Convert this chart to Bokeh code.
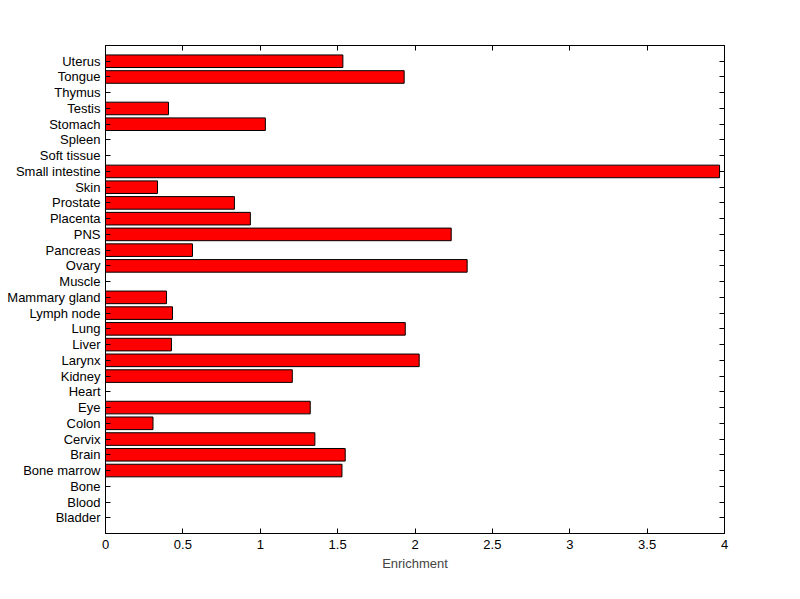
from bokeh.plotting import figure
from bokeh.models import Range1d, FixedTicker, LinearAxis, ColumnDataSource
from bokeh.embed import file_html
from bokeh.resources import INLINE

tissues = ["Bladder", "Blood", "Bone", "Bone marrow", "Brain", "Cervix", "Colon", "Eye",
           "Heart", "Kidney", "Larynx", "Liver", "Lung", "Lymph node", "Mammary gland",
           "Muscle", "Ovary", "Pancreas", "PNS", "Placenta", "Prostate", "Skin",
           "Small intestine", "Soft tissue", "Spleen", "Stomach", "Testis", "Thymus",
           "Tongue", "Uterus"]
enrichment = [0, 0, 0, 1.528, 1.549, 1.353, 0.307, 1.323,
              0, 1.207, 2.027, 0.426, 1.937, 0.433, 0.394,
              0, 2.337, 0.562, 2.234, 0.936, 0.833, 0.336,
              3.968, 0, 0, 1.033, 0.407, 0,
              1.930, 1.534]
x_ticks = [0, 0.5, 1, 1.5, 2, 2.5, 3, 3.5, 4]
x_tick_labels = ["0", "0.5", "1", "1.5", "2", "2.5", "3", "3.5", "4"]

ypos = list(range(1, len(tissues) + 1))
src = ColumnDataSource(dict(y=ypos, v=enrichment))

FONT = "Liberation Sans"
FS = "13px"

p = figure(width=784, height=583, output_backend="svg", toolbar_location=None,
           x_range=Range1d(0, 4), y_range=Range1d(0, len(tissues) + 1),
           min_border_left=105, min_border_right=60, min_border_top=45, min_border_bottom=50)
p.hbar(y="y", right="v", left=0, height=0.8, source=src,
       fill_color="#FF0000", line_color="black", line_width=1)

p.xgrid.visible = False
p.ygrid.visible = False
p.outline_line_color = "black"
p.outline_line_width = 1

xt = FixedTicker(ticks=x_ticks)
yt = FixedTicker(ticks=ypos)

xa = p.xaxis[0]
xa.ticker = xt
xa.major_label_overrides = {t: l for t, l in zip(x_ticks, x_tick_labels)}
xa.axis_label = "Enrichment"
xa.axis_label_text_font = FONT
xa.axis_label_text_font_size = FS
xa.axis_label_text_font_style = "normal"
xa.axis_label_standoff = 4
xa.major_label_standoff = 6

ya = p.yaxis[0]
ya.ticker = yt
ya.major_label_overrides = {i: n for i, n in zip(ypos, tissues)}
ya.major_label_standoff = 5

for ax in (xa, ya):
    ax.major_label_text_font = FONT
    ax.major_label_text_font_size = FS
    ax.major_label_text_color = "black"
    ax.axis_line_color = "black"
    ax.major_tick_line_color = "black"
    ax.major_tick_in = 5
    ax.major_tick_out = 0
    ax.minor_tick_line_color = None

top = LinearAxis(ticker=xt, major_label_text_color=None, major_tick_in=5, major_tick_out=0,
                 minor_tick_line_color=None, axis_line_color="black", major_label_standoff=0)
right = LinearAxis(ticker=yt, major_label_text_color=None, major_tick_in=5, major_tick_out=0,
                   minor_tick_line_color=None, axis_line_color="black", major_label_standoff=0)
p.add_layout(top, "above")
p.add_layout(right, "right")

open("out.html", "w").write(file_html(p, INLINE))
